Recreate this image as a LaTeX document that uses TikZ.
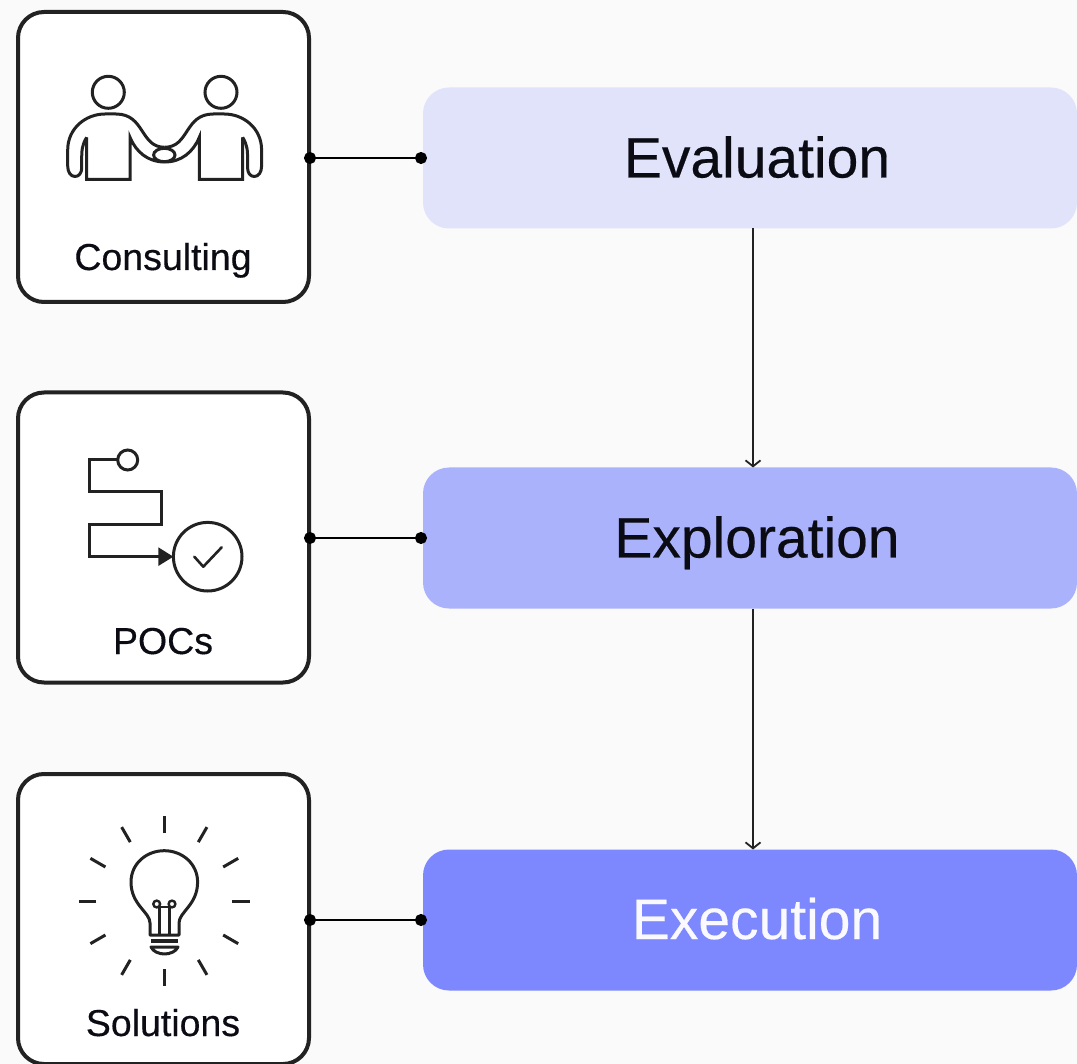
\documentclass[tikz,border=0pt]{standalone}
\usepackage{fontspec}
\setmainfont[FakeBold=0.35]{Liberation Sans}
\usetikzlibrary{arrows.meta}
\definecolor{bgc}{HTML}{FAFAFA}
\definecolor{ink}{HTML}{222222}
\definecolor{txt}{HTML}{0B0B14}
\definecolor{evalc}{HTML}{E1E3FB}
\definecolor{explc}{HTML}{ABB2FC}
\definecolor{execc}{HTML}{7D87FE}
\tikzset{
  toolbox/.style={draw=ink,line width=4pt,fill=white,rounded corners=26pt,minimum width=291pt,minimum height=290pt,inner sep=0pt,outer sep=0pt},
  stage/.style={rounded corners=26pt,minimum width=654pt,minimum height=141pt,inner sep=0pt,outer sep=0pt},
  stagetext/.style={font=\fontsize{57}{60}\selectfont,text=txt,inner sep=0pt,anchor=base},
  toollabel/.style={font=\fontsize{37.5}{40}\selectfont,text=txt,inner sep=0pt,anchor=base},
  icon/.style={draw=ink,line width=3pt,line join=miter},
  link/.style={draw=black,line width=2pt,{Circle[length=12pt,width=12pt]}-{Circle[length=12pt,width=12pt]},shorten <=-5pt,shorten >=-4pt},
  flow/.style={draw=ink,line width=1.8pt,-{Straight Barb[length=6pt,width=15pt,line width=1.8pt]}}
}
\begin{document}
\begin{tikzpicture}[x=1pt,y=-1pt]
\useasboundingbox (0,0) rectangle (1077,1064);
\fill[bgc] (0,0) rectangle (1077,1064);

% left boxes
\node[toolbox] (consulting) at (163.5,157) {};
\node[toolbox] (pocs) at (163.5,537.5) {};
\node[toolbox] (solutions) at (163.5,919) {};
% stages
\node[stage,fill=evalc] (evaluation) at (750,158) {};
\node[stage,fill=explc] (exploration) at (750,538) {};
\node[stage,fill=execc] (execution) at (750,920) {};
% texts
\node[stagetext] (evalt) at (757,177.5) {Evaluation};
\node[stagetext] (explt) at (757,557.5) {Exploration};
\node[stagetext,text=white!95!execc] (exect) at (757,939) {Execution};
\node[toollabel] (consultt) at (163,270) {Consulting};
\node[toollabel] (pocst) at (163,654) {POCs};
\node[toollabel] (solt) at (163,1036) {Solutions};

% connectors
\draw[link] (consulting.east |- evaluation.west) -- (evaluation.west);
\draw[link] (pocs.east |- exploration.west) -- (exploration.west);
\draw[link] (solutions.east |- execution.west) -- (execution.west);
\draw[flow] ([xshift=3pt]evaluation.south) -- ([xshift=3pt]exploration.north);
\draw[flow] ([xshift=3pt]exploration.south) -- ([xshift=3pt]execution.north);

% handshake icon
\def\halfperson{
  \draw[icon,line join=round] (86.7,137.3) .. controls (82,145) and (81.7,150) .. (81.7,160) -- (81.7,168)
    .. controls (81.7,173) and (79,176.5) .. (75,176.5)
    .. controls (70.5,176.5) and (67.7,172) .. (67.7,166) -- (67.7,150)
    .. controls (67.7,128) and (86,114) .. (105,114) -- (116,114)
    .. controls (145,114) and (140,147.3) .. (164.65,147.3);
  \draw[icon] (86.7,137.3) -- (86.7,179.3) -- (130,179.3) -- (130,137.3)
    .. controls (136,152) and (148,162) .. (164.65,162);
  \draw[icon] (108.3,92.3) circle (16);
}
\halfperson
\begin{scope}[xshift=329.3pt,xscale=-1]
\halfperson
\end{scope}
\draw[icon] (164.3,155) ellipse (10.7 and 6.7);

% POC icon
\draw[icon] (117.3,460) -- (89.3,460) -- (89.3,492) -- (161,492) -- (161,524.3) -- (89.3,524.3) -- (89.3,556.7) -- (160,556.7);
\draw[icon] (127.7,460) circle (10);
\fill[ink] (158.3,547.3) -- (158.3,566) -- (173.3,556.7) -- cycle;
\draw[icon] (207.7,556.7) circle (34.3);
\draw[icon,line cap=round,line join=round,line width=2.6pt] (194.3,556.7) -- (203.3,566.7) -- (221.7,547.3);

% bulb icon
\foreach \a in {0,30,...,330}{
  \draw[icon] (164.3,901)++(\a:68) -- ++(\a:17.3);
}
\draw[icon,line join=round] (150,935) -- (150,923) .. controls (150,912) and (131,905) .. (131,882)
  .. controls (131,864) and (146,850.7) .. (164.3,850.7)
  .. controls (182.5,850.7) and (197.6,864) .. (197.6,882)
  .. controls (197.6,905) and (179,912) .. (179,923) -- (179,935) -- cycle;
\draw[icon,line width=3.4pt] (151,941) -- (178,941);
\draw[icon,line join=round] (151,947) -- (178,947) .. controls (176,951.5) and (170,954) .. (164.5,954) .. controls (159,954) and (153,951.5) .. (151,947) -- cycle;
\draw[icon,line width=2.4pt] (159.4,935) -- (159.4,906.7) (169.4,935) -- (169.4,906.7);
\draw[icon,line width=2.4pt] (156.7,904) circle (3.4) (172,904) circle (3.4);
\draw[icon,line width=2.4pt] (159.4,906.7) -- (169.4,906.7);
\end{tikzpicture}
\end{document}
